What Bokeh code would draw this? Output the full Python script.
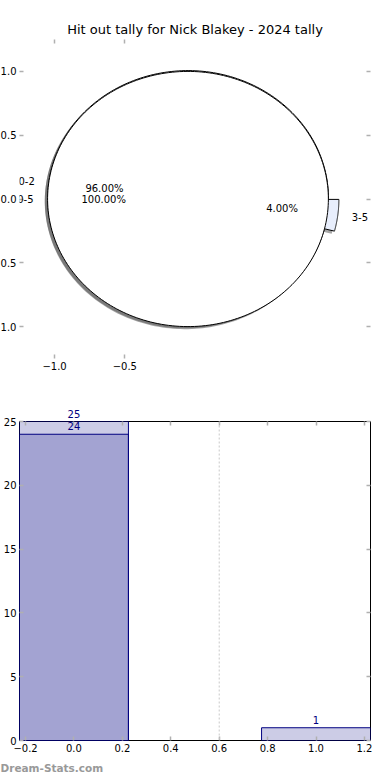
import numpy as np
from bokeh.plotting import figure
from bokeh.models import (Label, LinearAxis, FixedTicker, Span, Range1d, Title)
from bokeh.layouts import column
from bokeh.embed import file_html
from bokeh.resources import INLINE

# ---------------- data ----------------
title_text = "Hit out tally for Nick Blakey - 2024 tally"
watermark = "Dream-Stats.com"

inner_labels = ["0-2", "3-5"]
inner_values = [24, 1]
inner_colors = ["#ffffff", "#e8eefc"]
inner_explode = [0.05, 0.025]

outer_labels = ["0-5"]
outer_values = [25]
outer_colors = ["#ffffff"]
outer_explode = [0.05]

pie_xticks = [-1.0, -0.5]
pie_yticks = [-1.0, -0.5, 0.0, 0.5, 1.0]

bar_all_x = [0]
bar_all_values = [25]
bar_split_x = [0, 1]
bar_split_values = [24, 1]
bar_xticks = [-0.2, 0.0, 0.2, 0.4, 0.6, 0.8, 1.0, 1.2]
bar_yticks = [0, 5, 10, 15, 20, 25]
divider_x = 0.6

FONT = "DejaVu Sans"
SHIFT = 14  # left part of the figures hidden off-page (clips the minus signs)


def fmt(v):
    return f"{v:.1f}".replace("-", "\u2212")


def style_axis(ax, ticks, labels=True, overrides=None):
    ax.ticker = FixedTicker(ticks=ticks)
    ax.axis_line_color = None
    ax.major_tick_line_color = "#b0b0b0"
    ax.major_tick_line_width = 1.5
    ax.major_tick_in = 4
    ax.major_tick_out = 0
    ax.minor_tick_line_color = None
    ax.major_label_text_font = FONT
    ax.major_label_text_font_size = "10px" if labels else "0px"
    ax.major_label_text_color = "black"
    ax.major_label_standoff = 3
    if labels:
        ax.major_label_overrides = overrides if overrides else {}
    else:
        ax.major_label_overrides = {t: "" for t in ticks}


def wedge_shapes(values, explode):
    total = float(sum(values))
    xs, ys, mids, centers = [], [], [], []
    start = 0.0
    for v, e in zip(values, explode):
        span = 360.0 * v / total
        t1, t2 = np.radians(start), np.radians(start + span)
        mid = 0.5 * (t1 + t2)
        cx, cy = e * np.cos(mid), e * np.sin(mid)
        ts = np.linspace(t1, t2, 240)
        if span >= 359.999:
            px = list(cx + np.cos(ts))
            py = list(cy + np.sin(ts))
        else:
            px = [cx] + list(cx + np.cos(ts))
            py = [cy] + list(cy + np.sin(ts))
        xs.append(px)
        ys.append(py)
        mids.append(mid)
        centers.append((cx, cy))
        start += span
    return xs, ys, mids, centers


def new_fig(xr, yr, top, bottom):
    f = figure(width=390 + 2 * SHIFT, height=390, x_range=xr, y_range=yr,
               output_backend="svg", toolbar_location=None,
               min_border_left=19 + SHIFT, min_border_right=20,
               min_border_top=top, min_border_bottom=bottom,
               x_axis_location=None, y_axis_location=None)
    f.margin = (0, 0, 0, -SHIFT)
    f.xgrid.visible = False
    f.ygrid.visible = False
    return f


# ---------------- pie figure ----------------
p1 = new_fig(Range1d(-1.25, 1.25), Range1d(-1.25, 1.25), 39, 32)
p1.outline_line_color = None
p1.title.text = title_text
p1.title.align = "center"
p1.title.text_font = FONT
p1.title.text_font_size = "13px"
p1.title.text_font_style = "normal"
p1.title.text_color = "black"
p1.title.standoff = 6

xb = LinearAxis()
style_axis(xb, pie_xticks, True, {t: fmt(t) for t in pie_xticks})
p1.add_layout(xb, "below")
xt = LinearAxis()
style_axis(xt, pie_xticks, False)
p1.add_layout(xt, "above")
yl = LinearAxis()
style_axis(yl, pie_yticks, True, {t: fmt(t) for t in pie_yticks})
p1.add_layout(yl, "left")
yr = LinearAxis()
style_axis(yr, pie_yticks, False)
p1.add_layout(yr, "right")

label_rows = {"x": [], "y": [], "text": [], "align": []}
pct_rows = {"x": [], "y": [], "text": []}

for labels, values, colors, explode in [
        (inner_labels, inner_values, inner_colors, inner_explode),
        (outer_labels, outer_values, outer_colors, outer_explode)]:
    xs, ys, mids, centers = wedge_shapes(values, explode)
    sx = [[x - 0.02 for x in px] for px in xs]
    sy = [[y - 0.02 for y in py] for py in ys]
    p1.patches(sx, sy, fill_color="#4d4d4d", fill_alpha=0.5, line_color=None)
    p1.patches(xs, ys, fill_color=colors, line_color="black", line_width=1)
    total = float(sum(values))
    for lab, v, mid, (cx, cy) in zip(labels, values, mids, centers):
        lx = cx + 1.1 * np.cos(mid)
        ly = cy + 1.1 * np.sin(mid)
        label_rows["x"].append(lx)
        label_rows["y"].append(ly)
        label_rows["text"].append(lab)
        label_rows["align"].append("right" if lx < 0 else "left")
        pct_rows["x"].append(cx + 0.6 * np.cos(mid))
        pct_rows["y"].append(cy + 0.6 * np.sin(mid))
        pct_rows["text"].append(f"{100.0 * v / total:.2f}%")

for x, y, t, al in zip(label_rows["x"], label_rows["y"], label_rows["text"],
                       label_rows["align"]):
    p1.add_layout(Label(x=x, y=y, text=t, text_align=al,
                        text_baseline="middle", text_font=FONT,
                        text_font_size="10px", text_color="black"))

for x, y, t in zip(pct_rows["x"], pct_rows["y"], pct_rows["text"]):
    p1.add_layout(Label(x=x, y=y, text=t, text_align="center",
                        text_baseline="middle", text_font=FONT,
                        text_font_size="10px", text_color="black"))

# ---------------- bar figure ----------------
p2 = new_fig(Range1d(-0.225, 1.225), Range1d(0, 25), 31, 40)
p2.outline_line_color = "black"
p2.outline_line_width = 1

ax = LinearAxis()
style_axis(ax, bar_xticks, True, {t: fmt(t) for t in bar_xticks})
p2.add_layout(ax, "below")
ax2 = LinearAxis()
style_axis(ax2, bar_xticks, False)
p2.add_layout(ax2, "above")
ay = LinearAxis()
style_axis(ay, bar_yticks, True, {t: str(t) for t in bar_yticks})
p2.add_layout(ay, "left")
ay2 = LinearAxis()
style_axis(ay2, bar_yticks, False)
p2.add_layout(ay2, "right")

p2.add_layout(Span(location=divider_x, dimension="height",
                   line_color="#c8c8c8", line_dash="2 2", line_width=1))

p2.vbar(x=bar_all_x, top=bar_all_values, width=0.45, fill_color="navy",
        fill_alpha=0.2, line_color="navy", line_width=1)
p2.vbar(x=bar_split_x, top=bar_split_values, width=0.45, fill_color="navy",
        fill_alpha=0.2, line_color="navy", line_width=1)

# labels placed in the side panel so the ones above the frame are not clipped
for x, v in zip(bar_all_x + bar_split_x, bar_all_values + bar_split_values):
    p2.add_layout(Label(x=x, y=v, text=str(v), text_align="center",
                        text_baseline="bottom", y_offset=4, text_font=FONT,
                        text_font_size="10px", text_color="navy"), "above")

wm = Title(text=watermark, align="left", text_font=FONT,
           text_font_size="10.5px", text_font_style="bold",
           text_color="#999999", offset=-19)
p2.add_layout(wm, "below")

layout = column(p1, p2, spacing=0)
open("out.html", "w").write(file_html(layout, INLINE))
